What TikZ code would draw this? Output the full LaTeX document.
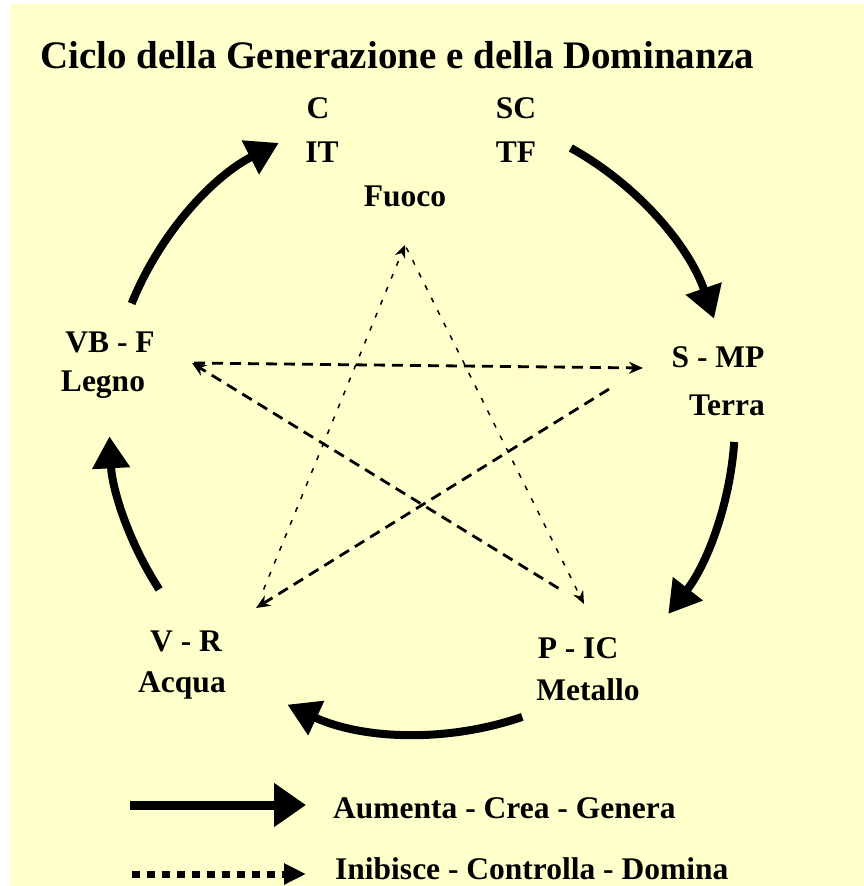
\documentclass[tikz,border=0pt]{standalone}
\usepackage{fontspec}
\setmainfont{Liberation Serif}
\usetikzlibrary{arrows.meta}
\definecolor{bg}{HTML}{FFFFCC}
\begin{document}
\begin{tikzpicture}[x=1pt,y=-1pt,
  lab/.style={font=\fontsize{31.5}{31.5}\selectfont\bfseries, inner sep=0pt, anchor=center},
  gen/.style={line width=8pt, -{Triangle[length=32pt,width=36pt]}},
  ctrl/.style={line width=2.8pt, dash pattern=on 11pt off 7pt, -{Stealth[length=14pt,width=12pt]}},
  ctrlfine/.style={line width=1.5pt, dash pattern=on 5pt off 9pt, -{Stealth[length=13pt,width=11pt]}},
]
\useasboundingbox (0,0) rectangle (864,886);
\fill[white] (0,0) rectangle (864,886);
\fill[bg] (10,4) rectangle (864,886);

% title
\node[lab, font=\fontsize{39}{39}\selectfont\bfseries] (title) at (397,55) {Ciclo della Generazione e della Dominanza};

% element labels
\node[lab] (c) at (318,108) {C};
\node[lab] (it) at (322,152) {IT};
\node[lab] (sc) at (516,108) {SC};
\node[lab] (tf) at (516,152) {TF};
\node[lab] (fuoco) at (405,196) {Fuoco};
\node[lab] (vbf) at (110,342) {VB - F};
\node[lab] (legno) at (103,385) {Legno};
\node[lab] (smp) at (718,357) {S - MP};
\node[lab] (terra) at (727,405) {Terra};
\node[lab] (vr) at (186,641) {V - R};
\node[lab] (acqua) at (182,685) {Acqua};
\node[lab] (pic) at (578,648) {P - IC};
\node[lab] (metallo) at (588,690) {Metallo};

% star vertices
\coordinate (pF) at (405,245);
\coordinate (pL) at (192,363);
\coordinate (pT) at (643,368);
\coordinate (pA) at (256,608);
\coordinate (pM) at (584,604);

% generation cycle
\coordinate (ctr) at (420,420);
\draw[gen] (ctr) ++(158:311pt) arc[start angle=158,end angle=117,radius=311pt];
\draw[gen] (ctr) ++(61:311pt) arc[start angle=61,end angle=19,radius=311pt];
\draw[gen] (ctr) ++(-4:315pt) arc[start angle=-4,end angle=-38,radius=315pt];
\draw[gen] (ctr) ++(-71:314pt) arc[start angle=-71,end angle=-115,radius=314pt];
\draw[gen] (ctr) ++(213:311pt) arc[start angle=213,end angle=183,radius=311pt];

% control cycle
\draw[ctrl, shorten <=2pt] (pL) -- (pT);
\draw[ctrl, shorten <=40pt] (pT) -- (pA);
\draw[ctrl, shorten <=30pt] (pM) -- (pL);
\draw[ctrlfine, shorten <=20pt] (pA) -- (pF);
\draw[ctrlfine, shorten <=3pt] (pF) -- (pM);

% legend
\coordinate (g1) at (130,805);
\coordinate (g2) at (306,805);
\draw[line width=9pt, -{Triangle[length=32pt,width=42pt]}] (g1) -- (g2);
\node[lab, anchor=west] (lg1) at (333,808) {Aumenta - Crea - Genera};
\coordinate (d1) at (132,874);
\coordinate (d2) at (306,874);
\draw[line width=7pt, dash pattern=on 8pt off 7pt, -{Triangle[length=22pt,width=20pt]}] (d1) -- (d2);
\node[lab, anchor=west] (lg2) at (335,869) {Inibisce - Controlla - Domina};
\end{tikzpicture}
\end{document}
